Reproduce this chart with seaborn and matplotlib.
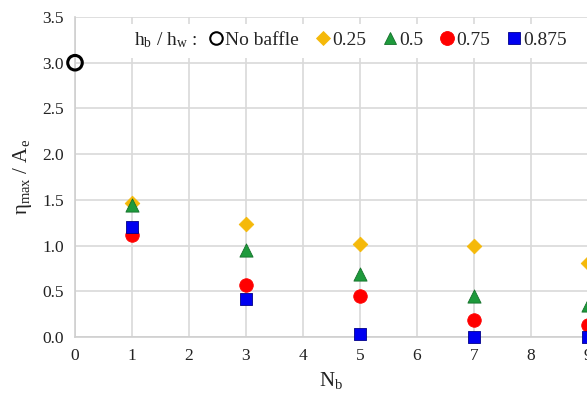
import matplotlib
matplotlib.use("Agg")
import matplotlib.pyplot as plt
import seaborn as sns
import pandas as pd
from matplotlib.lines import Line2D
from matplotlib.patches import Rectangle

# ---- data ----
nb_values = [1, 3, 5, 7, 9]
ratio_025 = [1.47, 1.24, 1.02, 0.99, 0.81]
ratio_05 = [1.44, 0.95, 0.69, 0.45, 0.35]
ratio_075 = [1.12, 0.57, 0.45, 0.19, 0.13]
ratio_0875 = [1.20, 0.42, 0.03, 0.00, 0.00]
no_baffle_x = [0]
no_baffle_y = [3.0]
series_labels = ["0.25", "0.5", "0.75", "0.875"]
x_ticks = list(range(0, 10))
y_ticks = [0.0, 0.5, 1.0, 1.5, 2.0, 2.5, 3.0, 3.5]

sns.set_theme(style="whitegrid")
plt.rcParams["font.family"] = ["Liberation Serif", "DejaVu Serif"]
plt.rcParams["mathtext.fontset"] = "custom"
plt.rcParams["mathtext.rm"] = "Liberation Serif"
plt.rcParams["mathtext.it"] = "Liberation Serif:italic"

rows = []
for lab, vals in zip(series_labels, [ratio_025, ratio_05, ratio_075, ratio_0875]):
    for x, y in zip(nb_values, vals):
        rows.append({"Nb": x, "eta": y, "ratio": lab})
df = pd.DataFrame(rows)
df_nb = pd.DataFrame({"Nb": no_baffle_x, "eta": no_baffle_y})

colors = {"0.25": "#F5B90A", "0.5": "#1E9A3C", "0.75": "#FF0000", "0.875": "#0000F0"}
markers = {"0.25": "D", "0.5": "^", "0.75": "o", "0.875": "s"}
sizes = {"0.25": 55, "0.5": 90, "0.75": 95, "0.875": 70}
edges = {"0.25": "#F5B90A", "0.5": "#14702A", "0.75": "#FF0000", "0.875": "#00008A"}

fig = plt.figure(figsize=(5.87, 3.99), dpi=100)
ax = fig.add_axes([75 / 587, 62 / 399, 513 / 587, 320 / 399])

for lab in series_labels:
    sub = df[df["ratio"] == lab]
    sns.scatterplot(data=sub, x="Nb", y="eta", ax=ax, color=colors[lab],
                    marker=markers[lab], s=sizes[lab], edgecolor=edges[lab],
                    linewidth=0.6, clip_on=False, zorder=3, legend=False)

sns.scatterplot(data=df_nb, x="Nb", y="eta", ax=ax, marker="o", s=110,
                facecolors="none", edgecolor="black", linewidth=2.2,
                clip_on=False, zorder=4, legend=False)

ax.set_xlim(0, 9)
ax.set_ylim(0, 3.5)
ax.set_xticks(x_ticks)
ax.set_yticks(y_ticks)
ax.set_yticklabels([f"{v:.1f}" for v in y_ticks])
ax.tick_params(axis="both", labelsize=12.5, length=0, pad=8, colors="#222222")
ax.grid(True, color="#D9D9D9", linewidth=1.2)
for side in ["top", "right"]:
    ax.spines[side].set_visible(False)
for side in ["left", "bottom"]:
    ax.spines[side].set_color("#CFCFCF")
    ax.spines[side].set_linewidth(1.2)

ax.set_xlabel(r"$\mathregular{N_b}$", fontsize=15, labelpad=4, color="#222222")
ax.set_ylabel(r"$\mathregular{η_{max}}$ / $\mathregular{A_e}$", fontsize=15, labelpad=6, color="#222222")

# white background behind the legend row (covers gridlines like the reference)
ax.add_patch(Rectangle(((128 - 75) / 513, (337 - 58) / 320), (600 - 128) / 513, 34 / 320,
                       transform=ax.transAxes, facecolor="white", edgecolor="none",
                       zorder=1.5, clip_on=False))

ax.text((134 - 75) / 513, 0.928, r"$\mathregular{h_b}$ / $\mathregular{h_w}$ :",
        transform=ax.transAxes, fontsize=14, va="center", ha="left", color="#222222",
        zorder=6)

handles = [Line2D([], [], linestyle="none", marker="o", markersize=9, markerfacecolor="none",
                  markeredgecolor="black", markeredgewidth=1.5)]
labels = ["No baffle"]
for lab in series_labels:
    ms = {"0.25": 7, "0.5": 9, "0.75": 10, "0.875": 8.5}[lab]
    handles.append(Line2D([], [], linestyle="none", marker=markers[lab], markersize=ms,
                          markerfacecolor=colors[lab], markeredgecolor=edges[lab],
                          markeredgewidth=0.6))
    labels.append(lab)

leg = ax.legend(handles, labels, ncol=5, loc="center left",
                bbox_to_anchor=((193 - 75) / 513, 0.928),
                frameon=False, fontsize=14, handlelength=0.6, handletextpad=0.15,
                columnspacing=0.95, borderpad=0.4, fancybox=False)
leg.set_zorder(5)

fig.savefig("out.png", dpi=100)
